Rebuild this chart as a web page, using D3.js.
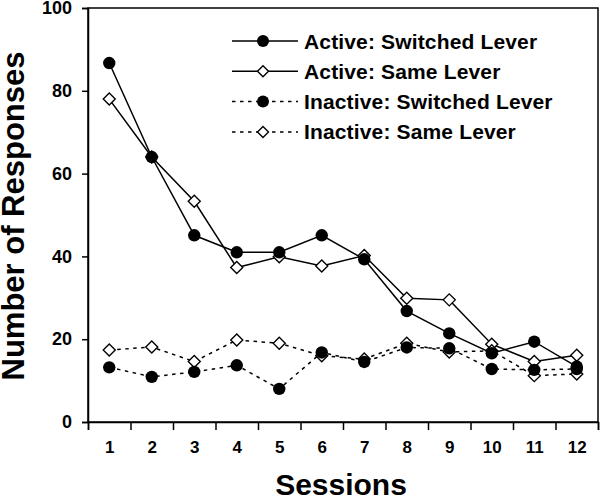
<!DOCTYPE html>
<html>
<head>
<meta charset="utf-8">
<script src="https://cdn.jsdelivr.net/npm/d3@7"></script>
<style>
body{margin:0;background:#fff;}
svg text{font-family:"Liberation Sans",Arial,sans-serif;font-weight:bold;fill:#000;}
</style>
</head>
<body>
<svg id="graf" width="600" height="497"></svg>
<script>
// datos
var sessions = [1,2,3,4,5,6,7,8,9,10,11,12];
var activeSwitched = [86.7,64.0,45.1,41.0,41.0,45.1,39.3,26.8,21.4,16.6,19.4,13.4];
var activeSame = [78.0,64.0,53.3,37.3,39.9,37.7,40.2,29.9,29.5,18.8,14.6,16.1];
var inactiveSwitched = [13.2,10.9,12.1,13.7,8.0,16.8,14.5,18.0,17.8,12.8,12.6,12.8];
var inactiveSame = [17.4,18.1,14.6,19.8,19.0,16.0,15.2,19.0,16.9,17.2,11.2,11.6];
var yTicks = [0,20,40,60,80,100];
var legendLabels = ["Active: Switched Lever","Active: Same Lever","Inactive: Switched Lever","Inactive: Same Lever"];

var series = [
	{vals: activeSwitched, dash: null, mark: "c"},
	{vals: activeSame, dash: null, mark: "d"},
	{vals: inactiveSwitched, dash: "3.5,4.5", mark: "c"},
	{vals: inactiveSame, dash: "3.5,4.5", mark: "d"}
];

var m = {l: 88, r: 598, t: 8, b: 422};

function escala(dom,rango){
	return d3.scaleLinear().domain(dom).range(rango);
}

function diamante(g,x,y,s){
	g.append("path")
		.attr("d","M"+x+","+(y-s)+"L"+(x+s)+","+y+"L"+x+","+(y+s)+"L"+(x-s)+","+y+"Z")
		.attr("fill","#fff").attr("stroke","#000").attr("stroke-width",1.4);
}

function circulo(g,x,y,r){
	g.append("circle").attr("cx",x).attr("cy",y).attr("r",r).attr("fill","#000");
}

var svg = d3.select("#graf");
var sx = escala([0.5,12.5],[m.l,m.r]);
var sy = escala([0,100],[m.b,m.t]);

// marco
svg.append("rect")
	.attr("x",m.l).attr("y",m.t)
	.attr("width",m.r-m.l).attr("height",m.b-m.t)
	.attr("fill","none").attr("stroke","#000").attr("stroke-width",1.5);

// eje x: marcas entre sesiones y etiquetas centradas
var bounds = sessions.map(function(d){return d-0.5;}).concat([12.5]);
svg.append("g").attr("transform","translate(0,"+m.b+")")
	.call(d3.axisBottom(sx).tickValues(bounds).tickSize(8).tickFormat(""))
	.call(function(g){g.select(".domain").attr("stroke-width",1.5);g.selectAll("line").attr("stroke-width",1.5);});
svg.append("g").attr("transform","translate(0,"+m.b+")")
	.call(d3.axisBottom(sx).tickValues(sessions).tickSize(0).tickPadding(19))
	.call(function(g){g.select(".domain").remove();g.selectAll("text").style("font-size","17px");});

// eje y
svg.append("g").attr("transform","translate("+m.l+",0)")
	.call(d3.axisLeft(sy).tickValues(yTicks).tickSize(6).tickPadding(10))
	.call(function(g){g.select(".domain").attr("stroke-width",1.5);g.selectAll("line").attr("stroke-width",1.5);g.selectAll("text").style("font-size","18px");});

// titulos
svg.append("text").attr("transform","rotate(-90)")
	.attr("x",-216).attr("y",24).attr("text-anchor","middle")
	.style("font-size","31px").text("Number of Responses");
svg.append("text").attr("x",341).attr("y",495).attr("text-anchor","middle")
	.style("font-size","30px").text("Sessions");

// lineas
var linea = d3.line()
	.x(function(d,i){return sx(sessions[i]);})
	.y(function(d){return sy(d);});

series.forEach(function(s){
	svg.append("path").datum(s.vals)
		.attr("d",linea).attr("fill","none").attr("stroke","#000")
		.attr("stroke-width",1.5).attr("stroke-dasharray",s.dash);
});

// marcadores: rombos primero, circulos encima
var gm = svg.append("g");
series.filter(function(s){return s.mark=="d";}).forEach(function(s){
	s.vals.forEach(function(v,i){diamante(gm,sx(sessions[i]),sy(v),6);});
});
series.filter(function(s){return s.mark=="c";}).forEach(function(s){
	s.vals.forEach(function(v,i){circulo(gm,sx(sessions[i]),sy(v),6.2);});
});

// leyenda
var lg = svg.append("g");
legendLabels.forEach(function(t,i){
	var yy = 41 + i*30.3;
	var s = series[i];
	lg.append("line").attr("x1",232).attr("x2",298).attr("y1",yy).attr("y2",yy)
		.attr("stroke","#000").attr("stroke-width",1.5).attr("stroke-dasharray",s.dash);
	if(s.mark=="c"){ circulo(lg,263,yy,6); } else { diamante(lg,263,yy,5.5); }
	lg.append("text").attr("x",304).attr("y",yy+7.5).style("font-size","21px")
		.style("letter-spacing","0.15px").text(t);
});
</script>
</body>
</html>
